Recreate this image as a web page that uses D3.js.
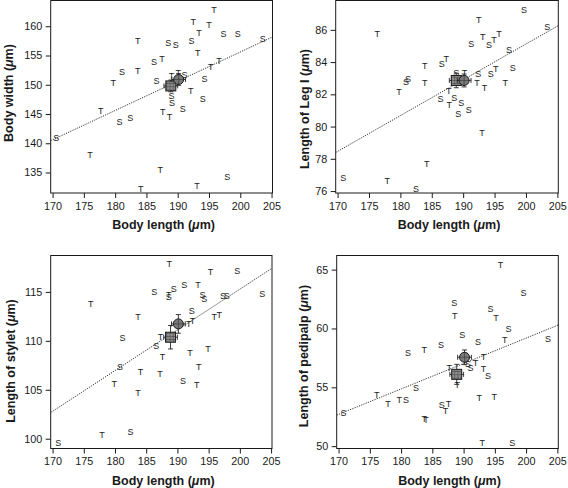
<!DOCTYPE html>
<html><head><meta charset="utf-8">
<script src="https://cdn.jsdelivr.net/npm/d3@7"></script>
<style>body{margin:0;background:#fff}svg{display:block}</style>
</head><body><svg id="c" width="568" height="488"></svg>
<script>
// ---------- DATA ----------
const xTicks = [170,175,180,185,190,195,200,205];
const xTitle = "Body length";

// Panel 1: Body width
const p1X = [195.8,192.5,195.0,193.4,197.3,199.6,203.6,183.6,188.5,189.7,192.2,193.2,186.2,187.5,196.6,195.3,181.1,183.6,179.7,186.6,189.0,190.1,191.1,194.3,192.1,194.0,177.7,180.7,182.4,187.6,188.7,190.8,189.1,189.0,170.6,176.0,187.2,184.1,193.1,197.9];
const p1Y = [162.9,160.8,160.2,158.9,158.7,158.7,157.8,157.5,157.2,156.8,157.6,155.5,154.0,154.4,154.1,153.1,152.3,152.4,150.3,150.7,151.6,152.0,151.7,151.1,149.0,147.6,145.6,143.6,144.3,145.3,144.6,145.9,147.0,148.2,141.0,138.0,135.5,132.3,132.7,134.3];
const p1L = ["T","T","T","T","S","S","S","T","S","S","S","T","S","T","T","T","S","T","T","S","T","T","S","S","T","S","T","S","S","T","T","S","S","S","S","T","T","T","T","S"];
const p1Ticks = [135,140,145,150,155,160];

// Panel 2: Length of Leg I
const p2X = [199.7,192.5,176.3,203.4,193.1,194.9,195.7,191.3,194.1,197.3,187.3,186.6,183.9,197.9,195.2,194.4,192.4,181.2,180.9,183.9,179.8,192.2,193.4,196.7,187.7,186.4,188.6,187.8,189.7,190.9,189.2,193.0,184.2,170.9,177.9,182.5,188.9,190.2];
const p2Y = [87.26,86.64,85.75,86.19,85.6,85.4,85.75,85.15,85.05,84.78,84.2,83.9,83.75,83.67,83.6,83.3,83.25,82.98,82.78,82.74,82.14,82.74,82.43,82.72,82.2,81.7,81.8,81.35,81.5,81.06,80.77,79.64,77.7,76.8,76.66,76.17,83.35,83.35];
const p2L = ["S","T","T","S","T","T","T","S","S","S","T","S","T","S","T","S","S","S","S","T","T","T","T","T","T","S","S","T","S","S","S","T","T","S","T","S","S","T"];
const p2Ticks = [76,78,80,82,84,86];

// Panel 3: Length of stylet
const p3X = [188.7,195.3,199.6,186.3,188.6,188.6,189.4,191.1,193.3,194.0,194.3,197.3,197.9,203.6,176.1,192.3,183.7,195.9,196.7,192.4,191.8,181.2,187.3,186.6,187.6,192.0,194.9,180.8,184.1,187.2,193.4,190.9,193.1,179.9,183.7,177.9,182.5,170.9];
const p3Y = [117.86,117.04,117.2,114.97,114.5,114.7,115.34,115.75,115.68,114.73,114.29,114.56,114.56,114.83,113.74,113.1,112.42,112.45,112.7,112.04,111.7,110.27,110.37,109.46,108.33,108.74,109.2,107.38,106.84,106.63,107.38,105.95,105.48,105.65,104.73,100.37,100.75,99.6];
const p3L = ["T","T","S","S","S","T","S","S","T","S","S","S","S","S","T","S","T","T","T","T","T","S","T","S","T","T","T","S","T","T","T","S","T","T","T","T","S","S"];
const p3Ticks = [100,105,110,115];

// Panel 4: Length of pedipalp
const p4X = [195.9,199.6,188.5,194.3,188.6,195.2,197.2,189.8,192.3,196.6,203.5,186.4,183.7,181.1,193.2,191.9,191.1,193.2,193.9,187.7,182.4,176.1,177.9,179.7,180.8,186.5,187.6,187.1,183.7,184.0,192.5,194.9,170.8,193.0,197.8,189.0,190.7];
const p4Y = [65.4,63.0,62.2,61.7,61.1,60.9,60.0,59.5,58.9,59.0,59.1,58.6,58.2,57.9,57.6,57.1,56.7,56.6,55.95,56.7,55.0,54.4,53.6,53.9,53.9,53.5,53.6,53.0,52.3,52.2,54.1,54.2,52.8,50.3,50.3,55.2,57.0];
const p4L = ["T","S","S","S","T","T","S","S","S","T","S","S","T","S","T","T","S","T","S","T","S","T","T","T","S","S","T","T","T","T","T","T","S","T","S","T","S"];
const p4Ticks = [50,55,60,65];

// Group means (circle, square) and error bars
const meanX = [190.15, 188.9];
const meanErrX = [1.1, 1.1];
const p1Mean = [150.9, 149.8], p1Err = [1.0, 1.0];
const p2Mean = [82.86, 82.86], p2Err = [0.4, 0.45];
const p3Mean = [111.73, 110.37], p3Err = [0.95, 1.2];
const p4Mean = [57.55, 56.1], p4Err = [0.62, 0.85];

// Regression lines (value at x=170, slope)
const fitAt170 = [140.6, 78.46, 102.8, 52.7];
const fitSlope = [0.50, 0.222, 0.416, 0.216];

// ---------- LAYOUT ----------
const panels = [
  {x:p1X,y:p1Y,l:p1L,ticks:p1Ticks,mean:p1Mean,err:p1Err,title:"Body width",
   left:50.7,right:272.5,top:0.5,bottom:193,ydom:[131.5,164.4],ytx:8,yty:93},
  {x:p2X,y:p2Y,l:p2L,ticks:p2Ticks,mean:p2Mean,err:p2Err,title:"Length of Leg I",
   left:335.7,right:558.3,top:0.5,bottom:193,ydom:[75.88,87.82],ytx:304,yty:109},
  {x:p3X,y:p3Y,l:p3L,ticks:p3Ticks,mean:p3Mean,err:p3Err,title:"Length of stylet",
   left:50.7,right:272,top:255.5,bottom:448.5,ydom:[99.0,118.72],ytx:10,yty:361},
  {x:p4X,y:p4Y,l:p4L,ticks:p4Ticks,mean:p4Mean,err:p4Err,title:"Length of pedipalp",
   left:336.7,right:558.3,top:255.5,bottom:448.5,ydom:[49.8,66.2],ytx:303.5,yty:356},
];

const svg = d3.select("#c");
const FONT = "'Liberation Sans', Arial, Helvetica, sans-serif";
const ink = "#1a1a1a";

const defs = svg.append("defs");
const pat = defs.append("pattern").attr("id","grid").attr("patternUnits","userSpaceOnUse")
  .attr("width",3.2).attr("height",3.2);
pat.append("rect").attr("width",3.2).attr("height",3.2).attr("fill","#8d8d8d");
pat.append("path").attr("d","M0,0.3H3.2M0.3,0V3.2").attr("stroke","#4a4a4a").attr("stroke-width",0.7);

panels.forEach((p,i)=>{
  const x = d3.scaleLinear().domain([169.7,205.15]).range([p.left,p.right]);
  const y = d3.scaleLinear().domain(p.ydom).range([p.bottom,p.top]);
  const g = svg.append("g");
  const cid = "clip"+i;
  defs.append("clipPath").attr("id",cid).append("rect")
    .attr("x",p.left).attr("y",p.top).attr("width",p.right-p.left).attr("height",p.bottom-p.top);

  // axes
  const xa = g.append("g").attr("transform",`translate(0,${p.bottom})`)
    .call(d3.axisBottom(x).tickValues(xTicks).tickSize(5).tickPadding(4).tickFormat(d3.format("d")));
  const ya = g.append("g").attr("transform",`translate(${p.left},0)`)
    .call(d3.axisLeft(y).tickValues(p.ticks).tickSize(5).tickPadding(3.5).tickFormat(d3.format("d")));
  [xa,ya].forEach(a=>{
    a.select(".domain").remove();
    a.selectAll("line").attr("stroke",ink);
    a.selectAll("text").attr("font-family",FONT).attr("font-size",10.8).attr("fill",ink);
  });
  g.append("rect").attr("x",p.left).attr("y",p.top).attr("width",p.right-p.left)
    .attr("height",p.bottom-p.top).attr("fill","none").attr("stroke",ink).attr("stroke-width",1);

  // titles
  const xt = g.append("text").attr("x",(p.left+p.right)/2+2).attr("y",p.bottom+36)
    .attr("text-anchor","middle").attr("font-family",FONT).attr("font-weight","bold")
    .attr("font-size",12.5).attr("fill",ink);
  xt.append("tspan").text(xTitle+" (");
  xt.append("tspan").attr("font-style","italic").text("\u03bc");
  xt.append("tspan").text("m)");
  const yt = g.append("text").attr("transform",`translate(${p.ytx+4.5},${p.yty}) rotate(-90)`)
    .attr("text-anchor","middle").attr("font-family",FONT).attr("font-weight","bold")
    .attr("font-size",12.5).attr("fill",ink);
  yt.append("tspan").text(p.title+" (");
  yt.append("tspan").attr("font-style","italic").text("\u03bc");
  yt.append("tspan").text("m)");

  const inner = g.append("g").attr("clip-path",`url(#${cid})`);
  // regression line
  const xd = x.domain();
  inner.append("line")
    .attr("x1",x(xd[0])).attr("y1",y(fitAt170[i]+fitSlope[i]*(xd[0]-170)))
    .attr("x2",x(xd[1])).attr("y2",y(fitAt170[i]+fitSlope[i]*(xd[1]-170)))
    .attr("stroke","#333").attr("stroke-width",1).attr("stroke-dasharray","1.2,1.2");

  // letters
  inner.selectAll("text.pt").data(p.x.map((v,k)=>({x:v,y:p.y[k],l:p.l[k]}))).enter()
    .append("text").attr("class","pt")
    .attr("x",d=>x(d.x)).attr("y",d=>y(d.y)).attr("dy","0.36em")
    .attr("text-anchor","middle").attr("font-family",FONT).attr("font-size",9)
    .attr("fill","#222").text(d=>d.l);

  // means with error bars: draw square (index1) then circle (index0)
  [1,0].forEach(k=>{
    const cx = x(meanX[k]), cy = y(p.mean[k]);
    const x0 = x(meanX[k]-meanErrX[k]), x1 = x(meanX[k]+meanErrX[k]);
    const y0 = y(p.mean[k]-p.err[k]), y1 = y(p.mean[k]+p.err[k]);
    const eb = g.append("g").attr("stroke","#222").attr("stroke-width",0.9);
    eb.append("line").attr("x1",x0).attr("x2",x1).attr("y1",cy).attr("y2",cy);
    eb.append("line").attr("x1",cx).attr("x2",cx).attr("y1",y0).attr("y2",y1);
    eb.append("line").attr("x1",x0).attr("x2",x0).attr("y1",cy-2.5).attr("y2",cy+2.5);
    eb.append("line").attr("x1",x1).attr("x2",x1).attr("y1",cy-2.5).attr("y2",cy+2.5);
    eb.append("line").attr("x1",cx-2.5).attr("x2",cx+2.5).attr("y1",y0).attr("y2",y0);
    eb.append("line").attr("x1",cx-2.5).attr("x2",cx+2.5).attr("y1",y1).attr("y2",y1);
    if(k===1){
      g.append("rect").attr("x",cx-5).attr("y",cy-5).attr("width",10).attr("height",10)
        .attr("fill","url(#grid)").attr("stroke","#1a1a1a").attr("stroke-width",1);
    } else {
      g.append("circle").attr("cx",cx).attr("cy",cy).attr("r",5)
        .attr("fill","#7a7a7a").attr("stroke","#1a1a1a").attr("stroke-width",1);
      g.append("line").attr("x1",cx-5).attr("x2",cx+5).attr("y1",cy).attr("y2",cy).attr("stroke","#333").attr("stroke-width",0.6);
      g.append("line").attr("x1",cx).attr("x2",cx).attr("y1",cy-5).attr("y2",cy+5).attr("stroke","#333").attr("stroke-width",0.6);
    }
  });
});
</script></body></html>
